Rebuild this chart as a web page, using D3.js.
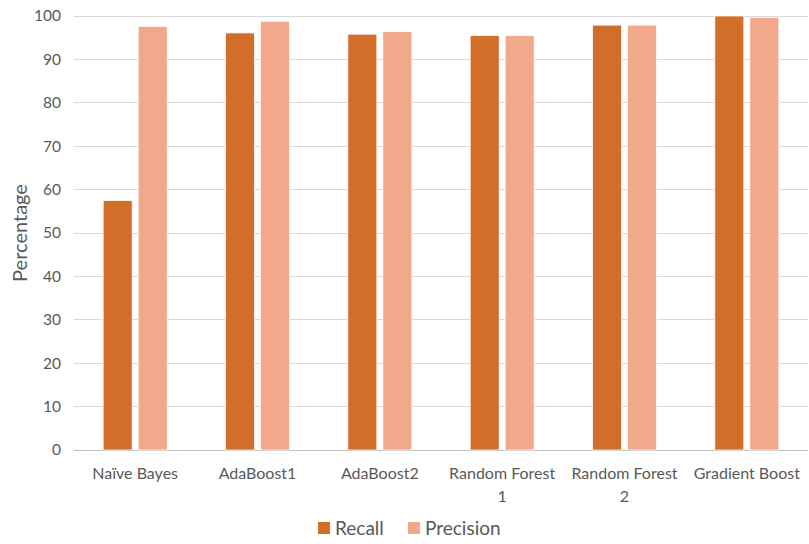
<!DOCTYPE html>
<html>
<head>
<meta charset="utf-8">
<script src="https://cdn.jsdelivr.net/npm/d3@7/dist/d3.min.js"></script>
<style>
  html, body { margin: 0; padding: 0; background: #fff; }
  svg { display: block; font-family: Lato, "Open Sans", sans-serif; }
</style>
</head>
<body>
<svg id="chart" width="809" height="544"></svg>
<script>
// Model names (each line of a label is an array entry)
const categories = [
  ["Naïve Bayes"],
  ["AdaBoost1"],
  ["AdaBoost2"],
  ["Random Forest", "1"],
  ["Random Forest", "2"],
  ["Gradient Boost"]
];
const recall    = [57.5, 96.1, 95.8, 95.5, 97.9, 100.0];
const precision = [97.6, 98.8, 96.4, 95.5, 97.9, 99.7];
const seriesNames = ["Recall", "Precision"];
const yTicks = [0, 10, 20, 30, 40, 50, 60, 70, 80, 90, 100];

const colors = { Recall: "#D26E2A", Precision: "#F2A88A" };

const svg = d3.select("#chart");
const margin = { left: 74, right: 1, top: 16, bottom: 94 };
const W = 809, H = 544;

const x = d3.scaleBand()
  .domain(d3.range(categories.length))
  .range([margin.left, W - margin.right])
  .paddingInner(0).paddingOuter(0);

const y = d3.scaleLinear().domain([0, 100]).range([H - margin.bottom, margin.top]);

// Gridlines
svg.append("g")
  .selectAll("line")
  .data(yTicks)
  .join("line")
  .attr("x1", margin.left).attr("x2", W - margin.right)
  .attr("y1", d => y(d)).attr("y2", d => y(d))
  .attr("stroke", d => d === 0 ? "#bfbfbf" : "#d9d9d9")
  .attr("stroke-width", 1)
  .attr("shape-rendering", "crispEdges");

// Y axis tick labels
const yAxis = d3.axisLeft(y).tickValues(yTicks).tickSize(0).tickPadding(0);
const gy = svg.append("g")
  .attr("transform", `translate(${margin.left - 13},0)`)
  .call(yAxis);
gy.select(".domain").remove();
gy.selectAll("text")
  .attr("fill", "#595959")
  .style("font-size", "15.5px")
  .style("font-family", "Lato, 'Open Sans', sans-serif");

// Y axis title
svg.append("text")
  .attr("transform", `translate(27,${(y(0) + y(100)) / 2}) rotate(-90)`)
  .attr("text-anchor", "middle")
  .attr("fill", "#595959")
  .style("font-size", "20px")
  .text("Percentage");

// Bars
const barW = 29, gap = 6;
const groupW = barW * 2 + gap;
const data = categories.map((c, i) => ({ i, values: [recall[i], precision[i]] }));

const groups = svg.append("g")
  .selectAll("g")
  .data(data)
  .join("g")
  .attr("transform", d => `translate(${x(d.i) + x.bandwidth() / 2 - groupW / 2},0)`);

groups.selectAll("rect")
  .data(d => d.values.map((v, k) => ({ k, v })))
  .join("rect")
  .attr("x", d => d.k * (barW + gap))
  .attr("width", barW)
  .attr("y", d => y(d.v))
  .attr("height", d => y(0) - y(d.v))
  .attr("fill", d => colors[seriesNames[d.k]])
  .attr("stroke", "#fff")
  .attr("stroke-width", 0.75);

// Category labels
const xl = svg.append("g");
categories.forEach((lines, i) => {
  const t = xl.append("text")
    .attr("x", x(i) + x.bandwidth() / 2)
    .attr("y", 479)
    .attr("text-anchor", "middle")
    .attr("fill", "#595959")
    .style("font-size", "16px");
  lines.forEach((ln, j) => {
    t.append("tspan")
      .attr("x", x(i) + x.bandwidth() / 2)
      .attr("dy", j === 0 ? 0 : 23)
      .text(ln);
  });
});

// Legend
const legend = svg.append("g").attr("transform", "translate(318,529)");
const legendX = [0, 90];
seriesNames.forEach((s, k) => {
  const g = legend.append("g").attr("transform", `translate(${legendX[k]},0)`);
  g.append("rect").attr("x", 0).attr("y", -7).attr("width", 12).attr("height", 12)
    .attr("fill", colors[s]);
  g.append("text").attr("x", 17).attr("y", 6)
    .attr("fill", "#595959")
    .style("font-size", "19px")
    .text(s);
});
</script>
</body>
</html>
